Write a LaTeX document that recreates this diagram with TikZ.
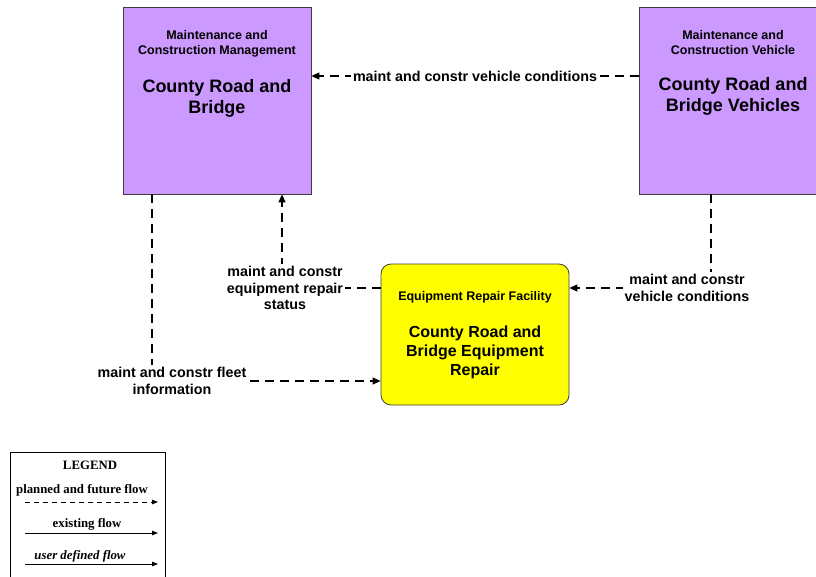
\documentclass[tikz,border=0pt]{standalone}
\usepackage{fontspec}
\setmainfont{Liberation Sans}
\newfontfamily\legendfont{Liberation Serif}
\usetikzlibrary{arrows.meta,positioning}
\definecolor{mcmpurple}{RGB}{204,153,255}
\definecolor{boxline}{RGB}{60,60,60}
\definecolor{facyellow}{RGB}{255,255,0}

\begin{document}
\begin{tikzpicture}[x=1pt, y=-1pt,
        ent/.style={draw=boxline, fill=mcmpurple, line width=0.8pt,
                    minimum width=188pt, minimum height=187pt, inner sep=0pt},
        facility/.style={draw=boxline, fill=facyellow, line width=0.8pt, rounded corners=10pt,
                    minimum width=188pt, minimum height=141pt, inner sep=0pt},
        hdr/.style={font=\bfseries\fontsize{12.5}{15}\selectfont, align=center, inner sep=0pt},
        ttl/.style={font=\bfseries\fontsize{18}{21}\selectfont, align=center, inner sep=0pt},
        subttl/.style={font=\bfseries\fontsize{16}{19}\selectfont, align=center, inner sep=0pt},
        lbl/.style={font=\bfseries\fontsize{14.3}{16.8}\selectfont, align=center,
                    fill=white, inner sep=2pt},
        flow/.style={-{Triangle[length=8pt,width=7pt]}, line width=1.2pt,
                     dash pattern=on 9pt off 6pt},
        legbox/.style={draw=black, line width=1pt, minimum width=155pt,
                       minimum height=140pt, inner sep=0pt},
        legtxt/.style={font=\legendfont\bfseries\fontsize{12.8}{15}\selectfont, inner sep=0pt},
        legarr/.style={-{Triangle[length=6pt,width=4.5pt]}, line width=1pt}
    ]
        \useasboundingbox (0,0) rectangle (816,576);
        \clip (0,0) rectangle (816,576);

        % entities
        \node[ent] (crb) at (217,100.5) {};
        \node[hdr, below=24pt of crb.north] (crbHdr) {Maintenance and\\Construction Management};
        \node[ttl, below=22pt of crbHdr] (crbTtl) {County Road and\\Bridge};

        \node[ent] (veh) at (733,100.5) {};
        \node[hdr, below=24pt of veh.north] (vehHdr) {Maintenance and\\Construction Vehicle};
        \node[ttl, below=22pt of vehHdr] (vehTtl) {County Road and\\Bridge Vehicles};

        \node[facility] (rep) at (475,334.5) {};
        \node[hdr, below=28pt of rep.north] (repHdr) {Equipment Repair Facility};
        \node[subttl, below=22pt of repHdr] (repTtl) {County Road and\\Bridge Equipment\\Repair};

        % flows
        \draw[flow] ([yshift=24.5pt]veh.west) -- node[lbl] {maint and constr vehicle conditions}
            ([yshift=24.5pt]crb.east);
        \draw[flow] ([xshift=-22pt]veh.south) |- node[lbl, pos=0.5, xshift=-24pt]
            {maint and constr\\vehicle conditions} ([yshift=46.5pt]rep.east);
        \draw[flow] ([yshift=46.5pt]rep.west) -| node[lbl, pos=0.5, xshift=3pt]
            {maint and constr\\equipment repair\\status} ([xshift=65pt]crb.south);
        \draw[flow] ([xshift=-65pt]crb.south) |- node[lbl, pos=0.5, xshift=20pt]
            {maint and constr fleet\\information} ([yshift=-46.5pt]rep.west);

        % legend
        \node[legbox, anchor=north] (leg) at (87.5,452) {};
        \node[legtxt] (legT) at (90,465) {LEGEND};
        \node[legtxt] (legP) at (82,490) {planned and future flow};
        \node[legtxt] (legE) at (87,524) {existing flow};
        \node[legtxt, font=\legendfont\bfseries\itshape\fontsize{12.8}{15}\selectfont] (legU) at (80,556) {user defined flow};
        \coordinate (p1) at (25,502); \coordinate (p2) at (158,502);
        \coordinate (e1) at (25,533); \coordinate (e2) at (158,533);
        \coordinate (u1) at (25,564); \coordinate (u2) at (158,564);
        \draw[legarr, dash pattern=on 5pt off 4pt] (p1) -- (p2);
        \draw[legarr] (e1) -- (e2);
        \draw[legarr] (u1) -- (u2);
    \end{tikzpicture}
\end{document}
